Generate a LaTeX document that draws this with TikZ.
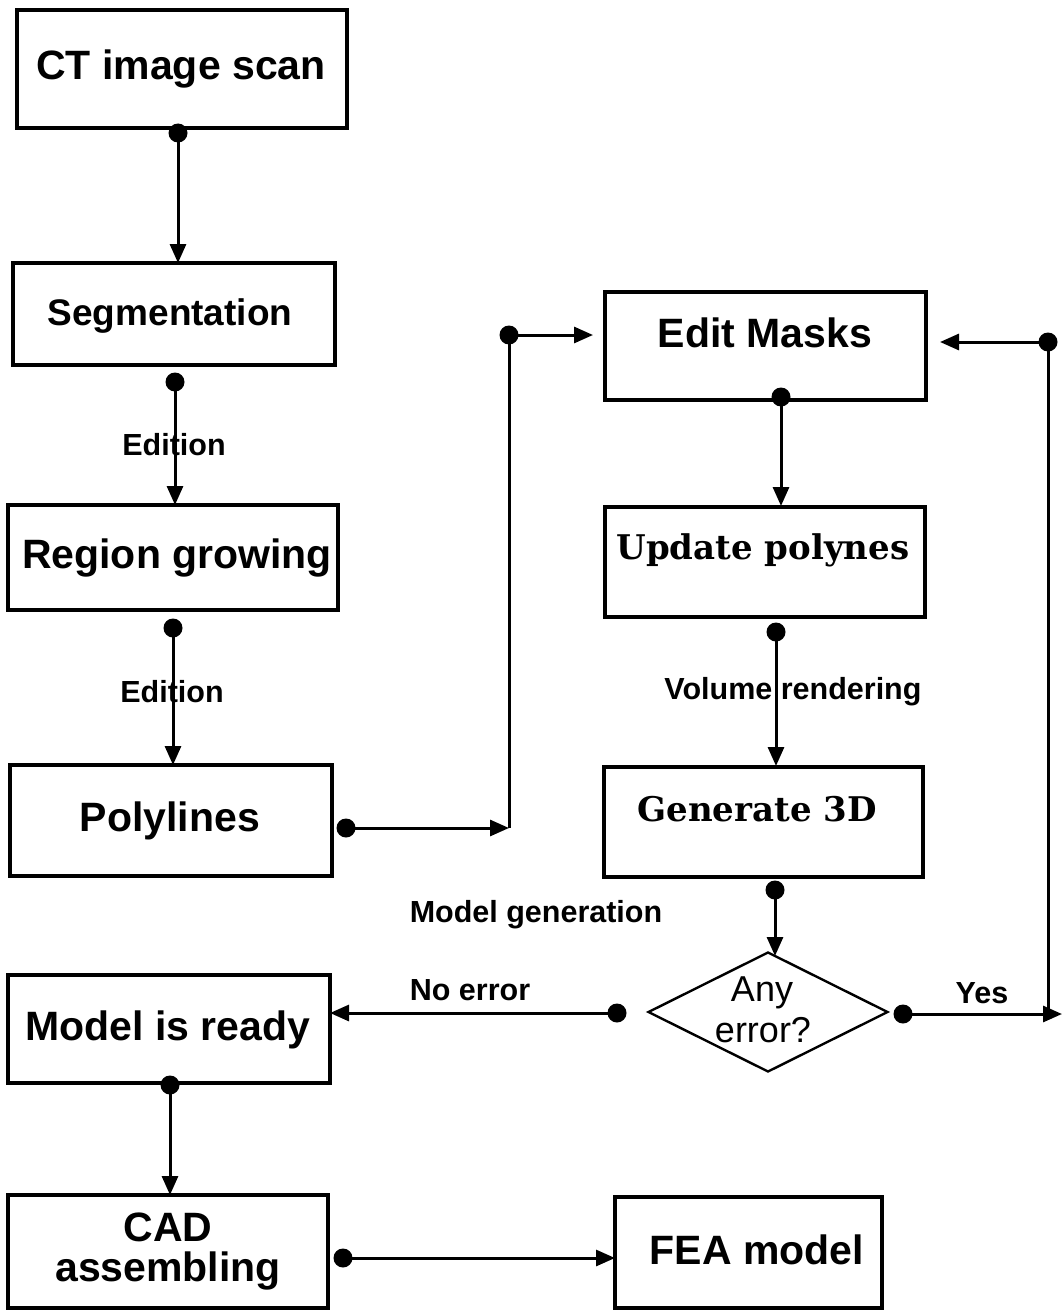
\documentclass[tikz,border=0pt]{standalone}
\usepackage{fontspec}
\setmainfont{Liberation Sans}
\newfontfamily\slabfont{DejaVu Serif}
\usetikzlibrary{arrows.meta,shapes.geometric}
\tikzset{
  x=1pt,y=-1pt,
  boxnode/.style={draw,line width=3.2pt,minimum width=#1,inner sep=0pt},
  btext/.style={font=\fontsize{41}{46}\selectfont\bfseries,inner sep=0pt},
  stext/.style={font=\fontsize{34}{38}\selectfont\slabfont\bfseries,inner sep=0pt},
  ltext/.style={font=\fontsize{30.5}{34}\selectfont\bfseries,inner sep=0pt},
  dotnode/.style={circle,fill=black,minimum size=19pt,inner sep=0pt},
  conn/.style={line width=3pt},
  aconn/.style={line width=3pt,-{Triangle[length=19pt,width=16pt]}},
}
\begin{document}
\begin{tikzpicture}
\useasboundingbox (0,0) rectangle (1063,1311);
% boxes
\node[boxnode=330pt,minimum height=118pt] (ct) at (182,69) {};
\node[btext] (ctt) at (181,69) {CT image scan};
\node[boxnode=322pt,minimum height=102pt] (seg) at (174,314) {};
\node[btext,font=\fontsize{37}{42}\selectfont\bfseries] (segt) at (170,316) {Segmentation};
\node[boxnode=330pt,minimum height=105pt] (reg) at (173,557.5) {};
\node[btext] (regt) at (177,558) {Region growing};
\node[boxnode=322pt,minimum height=111pt] (poly) at (171,820.5) {};
\node[btext] (polyt) at (170,821) {Polylines};
\node[boxnode=321pt,minimum height=108pt] (edit) at (765.5,346) {};
\node[btext] (editt) at (765,333) {Edit Masks};
\node[boxnode=320pt,minimum height=110pt] (upd) at (765,562) {};
\node[stext] (updt) at (763,550) {Update polynes};
\node[boxnode=319pt,minimum height=110pt] (gen) at (763.5,822) {};
\node[stext] (gent) at (757,809) {Generate 3D};
\node[draw,diamond,line width=2.4pt,minimum width=240pt,minimum height=120pt,aspect=2,inner sep=0pt] (dia) at (768,1012) {};
\node[inner sep=0pt,font=\fontsize{36}{40}\selectfont] (diat1) at (762,993) {Any};
\node[inner sep=0pt,font=\fontsize{36}{40}\selectfont] (diat2) at (763,1030) {error?};
\node[boxnode=322pt,minimum height=108pt] (ready) at (169,1029) {};
\node[btext] (readyt) at (168,1030) {Model is ready};
\node[boxnode=320pt,minimum height=113pt] (cad) at (168,1251.5) {};
\node[btext,align=center,font=\fontsize{41}{40}\selectfont\bfseries] (cadt) at (168,1252) {CAD\\assembling};
\node[boxnode=267pt,minimum height=111pt] (fea) at (748.5,1252.5) {};
\node[btext] (feat) at (757,1250) {FEA model};
% connector coordinates
\coordinate (a1) at (178,263);
\coordinate (a2) at (175,505);
\coordinate (a3) at (173,765);
\coordinate (a4) at (509,828);
\coordinate (t4) at (509,335);
\coordinate (a5) at (593,335);
\coordinate (a6) at (781,506);
\coordinate (a7) at (776,766);
\coordinate (a8) at (775,956);
\coordinate (a9) at (330,1013);
\coordinate (a10) at (1062,1014);
\coordinate (j10) at (1048,1014);
\coordinate (a11) at (940,342);
\coordinate (a12) at (170,1195);
\coordinate (a13) at (615,1258);
% dots
\node[dotnode] (d1) at (178,133) {};
\node[dotnode] (d2) at (175,382) {};
\node[dotnode] (d3) at (173,628) {};
\node[dotnode] (d4) at (346,828) {};
\node[dotnode] (d5) at (509,335) {};
\node[dotnode] (d6) at (781,397) {};
\node[dotnode] (d7) at (776,632) {};
\node[dotnode] (d8) at (775,890) {};
\node[dotnode] (d9) at (617,1013) {};
\node[dotnode] (d10) at (903,1014) {};
\node[dotnode] (d11) at (1048,342) {};
\node[dotnode] (d12) at (170,1085) {};
\node[dotnode] (d13) at (343,1258) {};
% connectors
\draw[aconn] (d1.center) -- (a1);
\draw[aconn] (d2.center) -- (a2);
\draw[aconn] (d3.center) -- (a3);
\draw[aconn] (d4.center) -- (a4);
\draw[conn] (a4) -- (t4);
\draw[aconn] (d5.center) -- (a5);
\draw[aconn] (d6.center) -- (a6);
\draw[aconn] (d7.center) -- (a7);
\draw[aconn] (d8.center) -- (a8);
\draw[aconn] (d9.center) -- (a9);
\draw[aconn] (d10.center) -- (a10);
\draw[conn] (j10) -- (d11.center);
\draw[aconn] (d11.center) -- (a11);
\draw[aconn] (d12.center) -- (a12);
\draw[aconn] (d13.center) -- (a13);
% labels
\node[ltext] (l1) at (174,445) {Edition};
\node[ltext] (l2) at (172,692) {Edition};
\node[ltext] (l3) at (793,692) {Volume rendering};
\node[ltext] (l4) at (536,915) {Model generation};
\node[ltext] (l5) at (470,990) {No error};
\node[ltext] (l6) at (982,993) {Yes};
\end{tikzpicture}
\end{document}
